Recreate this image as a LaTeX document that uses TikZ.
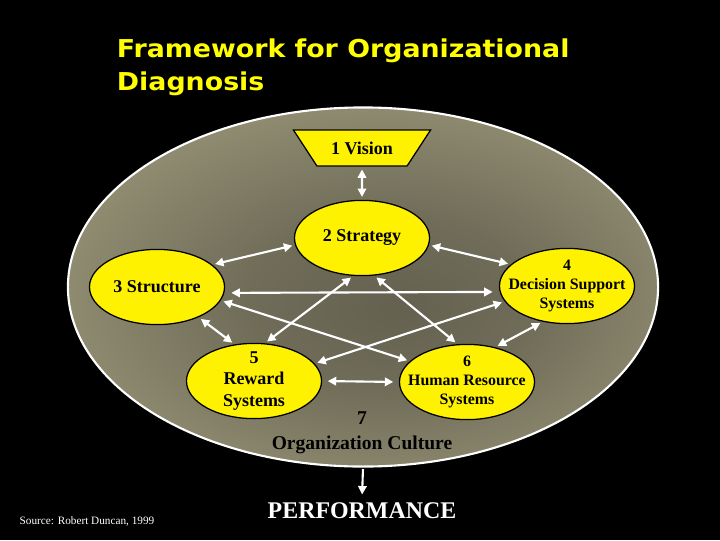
\documentclass[tikz,border=0pt]{standalone}
\usepackage{fontspec}
\setmainfont{Liberation Serif}
\newfontfamily\titlefont[FakeStretch=1.09]{DejaVu Sans}
\usepackage{tikz}
\usetikzlibrary{shapes.geometric,arrows.meta}
\definecolor{orglight}{RGB}{176,171,137}
\definecolor{orgdark}{RGB}{100,97,80}
\definecolor{titleyellow}{RGB}{255,255,0}
\pgfdeclareradialshading{orgshade}{\pgfpoint{3bp}{-3bp}}{color(0bp)=(orgdark); color(12bp)=(orgdark!85!orglight); color(42bp)=(orglight); color(50bp)=(orglight)}

\begin{document}
\begin{tikzpicture}[x=0.025cm,y=-0.025cm]
\tikzstyle{unit}=[ellipse,draw=black,line width=0.9pt,fill=yellow,minimum width=3.375cm,minimum height=1.88cm,inner xsep=-15pt,inner ysep=-10pt,align=center,font=\bfseries\fontsize{11.3}{13.5}\selectfont]
\tikzstyle{big}=[font=\bfseries\fontsize{12.8}{15}\selectfont]
\tikzstyle{link}=[white,line width=1.5pt,{Triangle[length=6pt,width=6pt]}-{Triangle[length=6pt,width=6pt]},shorten <=2pt,shorten >=2pt]
\fill[black] (0,0) rectangle (720,540);
\useasboundingbox (0,0) rectangle (720,540);
\node [ellipse,draw=white,line width=1.5pt,shade,shading=orgshade,minimum width=14.75cm,minimum height=8.975cm] (org) at (363,287) {};
\node [trapezium,trapezium angle=50,trapezium stretches=true,shape border rotate=180,draw=black,line width=0.9pt,fill=yellow,minimum width=3.45cm,minimum height=0.9cm,big] (vision) at (362,148) {1 Vision};
\node [unit,big] (strat) at (362,238) {2 Strategy};
\node [unit,big] (struct) at (157,287) {3 Structure};
\node [unit] (dss) at (567,286) {4\\Decision Support\\Systems};
\node [unit,big] (reward) at (254,381) {5\\Reward\\Systems};
\node [unit] (hr) at (467,382) {6\\Human Resource\\Systems};
\node [align=center,font=\bfseries\fontsize{13.9}{17.8}\selectfont] (culture) at (362,433) {7\\Organization Culture};
\node [white,font=\bfseries\fontsize{17}{20}\selectfont] (perf) at (362,511) {PERFORMANCE};
\node [white,font=\fontsize{8}{9}\selectfont] (source) at (87,521) {Source: Robert Duncan, 1999};
\node [text=titleyellow,anchor=west,align=left,font=\titlefont\bfseries\fontsize{17.5}{23.5}\selectfont] (title) at (112,67) {Framework for Organizational\\Diagnosis};
\draw [link] (vision.south) -- (strat.north);
\draw [link] (strat.186) -- (struct.22);
\draw [link] (strat.354) -- (dss.159);
\draw [link,shorten <=5pt,shorten >=5pt] (struct.355) -- (dss.185);
\draw [link] (struct.348) -- (hr.160);
\draw [link] (struct.324) -- (reward.118);
\draw [link] (strat.257) -- (reward.74);
\draw [link] (strat.288) -- (hr.104);
\draw [link] (dss.194) -- (reward.16);
\draw [link] (dss.236) -- (hr.51);
\draw [link,shorten <=4pt,shorten >=4pt] (reward.east) -- (hr.west);
\draw [white,line width=1.5pt,-{Triangle[length=6pt,width=6pt]},shorten <=1pt,shorten >=2.5pt] (org.south) -- (perf.north);
\end{tikzpicture}
\end{document}
